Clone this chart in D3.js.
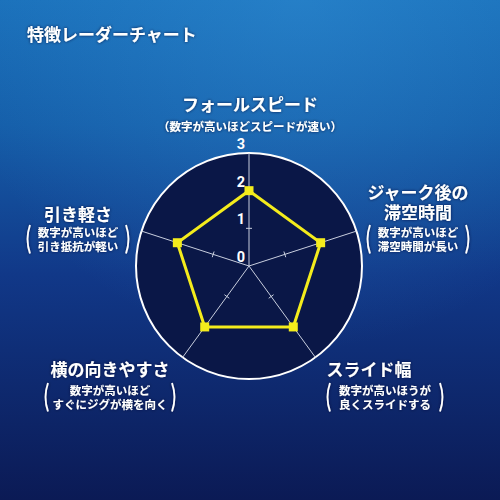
<!DOCTYPE html>
<html>
<head>
<meta charset="utf-8">
<script src="https://cdn.jsdelivr.net/npm/d3@7"></script>
<style>
  html, body { margin: 0; padding: 0; background: #0c1d5a; }
  svg text { font-family: "Noto Sans CJK JP", "Noto Sans", sans-serif; font-weight: 700; fill: #fff; }
  svg text.label { font-family: "Liberation Sans", "Noto Sans CJK JP", sans-serif; }
</style>
</head>
<body>
<div id="chart"></div>
<script>
// chart values
var axisNames = ["フォールスピード", "ジャーク後の滞空時間", "スライド幅", "横の向きやすさ", "引き軽さ"];
var values = [2, 2, 2, 2, 2];
var tickValues = [0, 1, 2, 3];
var titleText = "特徴レーダーチャート";

// label blocks for each axis (title lines, note lines)
var labelTitles = [["フォールスピード"], ["ジャーク後の", "滞空時間"], ["スライド幅"], ["横の向きやすさ"], ["引き軽さ"]];
var labelNotes = [
  ["（数字が高いほどスピードが速い）"],
  ["数字が高いほど", "滞空時間が長い"],
  ["数字が高いほうが", "良くスライドする"],
  ["数字が高いほど", "すぐにジグが横を向く"],
  ["数字が高いほど", "引き抵抗が軽い"]
];

var width = 500, height = 500;
var cx = 249, cy = 266, radius = 113;

var svg = d3.select("#chart").append("svg")
  .attr("width", width)
  .attr("height", height);

var defs = svg.append("defs");

// background: bright water at the top, deep navy below
var bg = defs.append("linearGradient").attr("id", "bg")
  .attr("x1", 0).attr("y1", 0).attr("x2", 0).attr("y2", 1);
bg.append("stop").attr("offset", "0%").attr("stop-color", "#1a70ba");
bg.append("stop").attr("offset", "25%").attr("stop-color", "#155ea9");
bg.append("stop").attr("offset", "55%").attr("stop-color", "#113888");
bg.append("stop").attr("offset", "100%").attr("stop-color", "#0b1a55");

var glow = defs.append("radialGradient").attr("id", "glow")
  .attr("cx", "60%").attr("cy", "0%").attr("r", "70%");
glow.append("stop").attr("offset", "0%").attr("stop-color", "#3a9be0").attr("stop-opacity", 0.35);
glow.append("stop").attr("offset", "100%").attr("stop-color", "#3a9be0").attr("stop-opacity", 0);

var shadow = defs.append("filter").attr("id", "shadow")
  .attr("x", "-10%").attr("y", "-20%").attr("width", "120%").attr("height", "140%");
shadow.append("feDropShadow")
  .attr("dx", 0).attr("dy", 0).attr("stdDeviation", 1.5)
  .attr("flood-color", "#001030").attr("flood-opacity", 0.8);

svg.append("rect").attr("width", width).attr("height", height).attr("fill", "url(#bg)");
svg.append("rect").attr("width", width).attr("height", height).attr("fill", "url(#glow)");

// title
svg.append("text")
  .attr("x", 27)
  .attr("y", 41)
  .attr("filter", "url(#shadow)")
  .style("font-size", "17px")
  .text(titleText);

var r = d3.scaleLinear().domain([0, 3]).range([0, radius]);
var angle = d3.scaleLinear().domain([0, axisNames.length]).range([-Math.PI / 2, Math.PI * 1.5]);

function px(i, v) { return cx + Math.cos(angle(i)) * r(v); }
function py(i, v) { return cy + Math.sin(angle(i)) * r(v); }

var g = svg.append("g");

// outer disc
g.append("circle")
  .attr("cx", cx).attr("cy", cy).attr("r", r(3))
  .attr("fill", "#0a1747")
  .attr("stroke", "#fff")
  .attr("stroke-width", 2);

// spokes
g.selectAll(".spoke")
  .data(axisNames)
  .enter()
  .append("line")
  .attr("class", "spoke")
  .attr("x1", cx).attr("y1", cy)
  .attr("x2", function (d, i) { return px(i, 3); })
  .attr("y2", function (d, i) { return py(i, 3); })
  .attr("stroke", "#c8cede")
  .attr("stroke-width", 1);

// small tick marks across each spoke
var tickPairs = [];
axisNames.forEach(function (d, i) {
  [1, 2].forEach(function (t) { tickPairs.push([i, t]); });
});
g.selectAll(".tick")
  .data(tickPairs)
  .enter()
  .append("line")
  .attr("class", "tick")
  .attr("x1", function (d) { return px(d[0], d[1]) + Math.cos(angle(d[0]) + Math.PI / 2) * 3; })
  .attr("y1", function (d) { return py(d[0], d[1]) + Math.sin(angle(d[0]) + Math.PI / 2) * 3; })
  .attr("x2", function (d) { return px(d[0], d[1]) - Math.cos(angle(d[0]) + Math.PI / 2) * 3; })
  .attr("y2", function (d) { return py(d[0], d[1]) - Math.sin(angle(d[0]) + Math.PI / 2) * 3; })
  .attr("stroke", "#c8cede")
  .attr("stroke-width", 1);

// scale numbers along the top spoke
g.selectAll(".tick-label")
  .data(tickValues)
  .enter()
  .append("text")
  .attr("class", "tick-label")
  .attr("x", cx - 8)
  .attr("y", function (d) { return cy - r(d) - 4; })
  .attr("text-anchor", "middle")
  .style("font-size", "14.5px")
  .style("font-family", "Roboto, 'Noto Sans', sans-serif")
  .text(function (d) { return d; });

// data polygon
var line = d3.line()
  .x(function (d, i) { return px(i, d); })
  .y(function (d, i) { return py(i, d); })
  .curve(d3.curveLinearClosed);

g.append("path")
  .datum(values)
  .attr("d", line)
  .attr("fill", "none")
  .attr("stroke", "#f4ec1c")
  .attr("stroke-width", 3)
  .attr("stroke-linejoin", "miter");

g.selectAll(".marker")
  .data(values)
  .enter()
  .append("rect")
  .attr("class", "marker")
  .attr("x", function (d, i) { return px(i, d) - 4.5; })
  .attr("y", function (d, i) { return py(i, d) - 4.5; })
  .attr("width", 9)
  .attr("height", 9)
  .attr("fill", "#f4ec1c");

// axis labels: one text block per axis (title lines then note lines)
var labelPos = [
  { x: 250, y: 111, noteY: 131, paren: false },
  { x: 418, y: 199, noteY: 237, paren: true, pw: 48 },
  { x: 369, y: 376, noteY: 395, paren: true, pw: 55, nx: 385 },
  { x: 110, y: 376, noteY: 395, paren: true, pw: 62 },
  { x: 78, y: 221, noteY: 237, paren: true, pw: 48 }
];
var noteGap = 13.5;

labelTitles.forEach(function (lines, i) {
  var p = labelPos[i];
  var nx = p.nx || p.x;
  var lg = svg.append("g").attr("filter", "url(#shadow)");
  var txt = lg.append("text").attr("class", "label").attr("text-anchor", "middle");

  lines.forEach(function (d, j) {
    txt.append("tspan")
      .attr("x", p.x)
      .attr("y", p.y + j * 20)
      .style("font-size", "17px")
      .text(d);
  });
  labelNotes[i].forEach(function (d, j) {
    txt.append("tspan")
      .attr("x", nx)
      .attr("y", p.noteY + j * noteGap)
      .style("font-size", "11.5px")
      .text(d);
  });

  if (p.paren) {
    var top = p.noteY - 12, bot = p.noteY + noteGap + 3;
    var mid = (top + bot) / 2;
    [-1, 1].forEach(function (s) {
      var ex = nx + s * p.pw;
      lg.append("path")
        .attr("d", "M" + ex + "," + top + " Q" + (ex + s * 5) + "," + mid + " " + ex + "," + bot)
        .attr("fill", "none")
        .attr("stroke", "#fff")
        .attr("stroke-width", 1.8);
    });
  }
});
</script>
</body>
</html>
